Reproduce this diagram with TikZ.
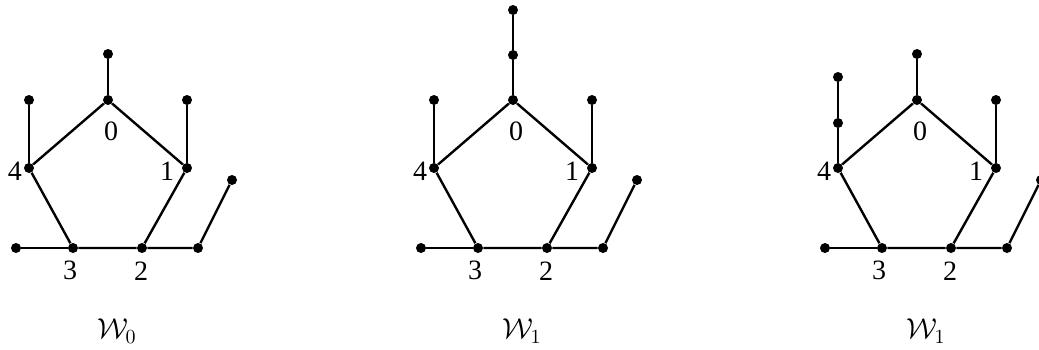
\documentclass[tikz,border=0pt]{standalone}
\usepackage{fontspec}
\setmainfont{Liberation Serif}
\usetikzlibrary{positioning}
\tikzset{
  vdot/.style={circle, fill=black, inner sep=0pt, minimum size=5pt},
  vlabel/.style={inner sep=0pt, font=\fontsize{14}{16}\selectfont},
  edge/.style={line width=1.2pt},
  gname/.style={inner sep=0pt, font=\fontsize{14.5}{16}\selectfont}
}
\begin{document}
\begin{tikzpicture}[x=0.5pt, y=-0.5pt]
  \useasboundingbox (0,0) rectangle (1039,349);
  % common part: pentagon with pendant paths
  \foreach \g/\dx/\name in {a/0/{\mathcal{W}_0}, b/405/{\mathcal{W}_1}, c/809/{\mathcal{W}_1}} {
    \begin{scope}[xshift=\dx*0.5pt]
      \node[vdot] (\g0) at (108,100) {};
      \node[vdot] (\g1) at (187,168) {};
      \node[vdot] (\g2) at (142,248) {};
      \node[vdot] (\g3) at (73,248) {};
      \node[vdot] (\g4) at (29,168) {};
      \node[vdot] (\g1u) at (187,100) {};
      \node[vdot] (\g3l) at (16,248) {};
      \node[vdot] (\g2r) at (198,248) {};
      \node[vdot] (\g2ru) at (232,180) {};
      \node[vlabel] (\g0lab) at (111,131) {0};
      \node[vlabel] (\g1lab) at (167,171) {1};
      \node[vlabel] (\g2lab) at (141,271) {2};
      \node[vlabel] (\g3lab) at (70,270) {3};
      \node[vlabel] (\g4lab) at (15,171) {4};
      \node[gname] (\g name) at (117,331) {$\name$};
      \draw[edge] (\g0) -- (\g1) -- (\g2) -- (\g3) -- (\g4) -- (\g0);
      \draw[edge] (\g1) -- (\g1u);
      \draw[edge] (\g3) -- (\g3l);
      \draw[edge] (\g2) -- (\g2r) -- (\g2ru);
    \end{scope}
  }
  % W_0
  \node[vdot] (a0u) at (108,54) {};
  \node[vdot] (a4u) at (29,100) {};
  \draw[edge] (a0) -- (a0u);
  \draw[edge] (a4) -- (a4u);
  % first W_1
  \node[vdot] (b0u) at (513,55) {};
  \node[vdot] (b0uu) at (513,10) {};
  \node[vdot] (b4u) at (434,100) {};
  \draw[edge] (b0) -- (b0u) -- (b0uu);
  \draw[edge] (b4) -- (b4u);
  % second W_1
  \node[vdot] (c0u) at (917,54) {};
  \node[vdot] (c4u) at (838,123) {};
  \node[vdot] (c4uu) at (838,77) {};
  \draw[edge] (c0) -- (c0u);
  \draw[edge] (c4) -- (c4u) -- (c4uu);
\end{tikzpicture}
\end{document}
